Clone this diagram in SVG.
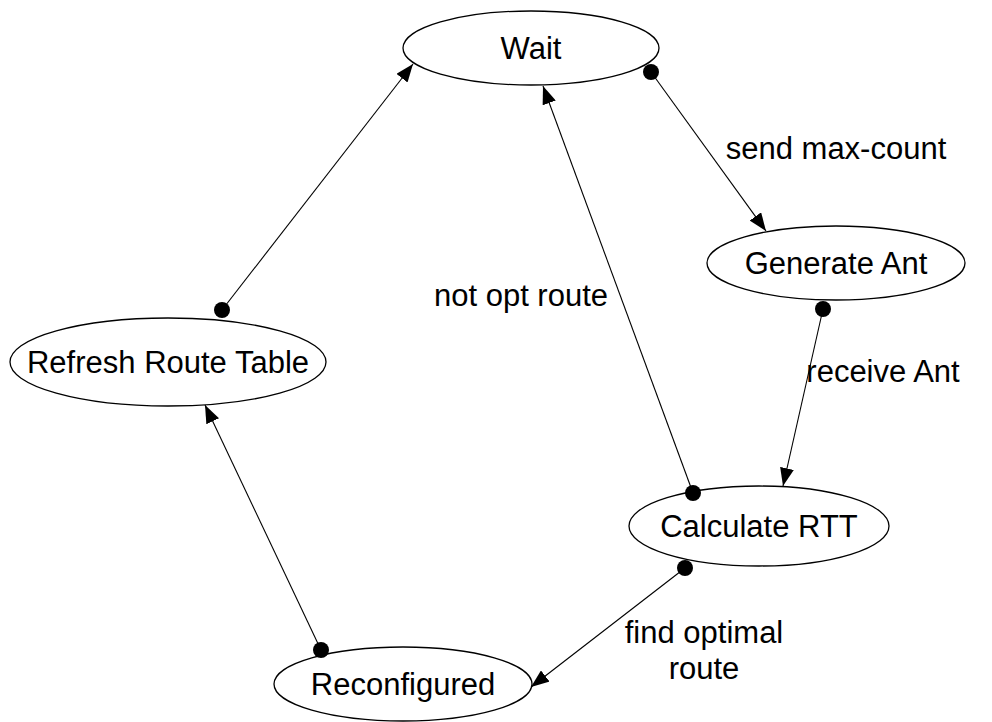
<svg xmlns="http://www.w3.org/2000/svg" width="992" height="722" viewBox="0 0 992 722">
<style>
.node ellipse{fill:#fff;stroke:#000;stroke-width:1.3}
text{font-family:"Liberation Sans",Arial,sans-serif;font-size:31px;fill:#000;text-anchor:middle}
.edge line{stroke:#000;stroke-width:1.1;marker-end:url(#arr)}
.dot{fill:#000}
</style>
<defs>
<marker id="arr" viewBox="0 0 18 14" refX="18" refY="7" markerWidth="18" markerHeight="14" markerUnits="userSpaceOnUse" orient="auto">
<path d="M0,0 L18,7 L0,14 z" fill="#000"/>
</marker>
</defs>
<rect width="992" height="722" fill="#fff"/>
<g id="n-wait" class="node"><ellipse cx="531" cy="48" rx="128" ry="37"/><text x="531" y="59">Wait</text></g>
<g id="n-gen" class="node"><ellipse cx="836" cy="263" rx="129" ry="37"/><text x="836" y="274">Generate Ant</text></g>
<g id="n-refresh" class="node"><ellipse cx="168" cy="362" rx="158" ry="44"/><text x="168" y="373">Refresh Route Table</text></g>
<g id="n-calc" class="node"><ellipse cx="759" cy="526" rx="130" ry="40"/><text x="759" y="537">Calculate RTT</text></g>
<g id="n-reconf" class="node"><ellipse cx="403" cy="684" rx="129" ry="37"/><text x="403" y="695">Reconfigured</text></g>
<g id="connectors" class="edge">
<line x1="222" y1="310" x2="413" y2="64"/>
<circle class="dot" cx="222" cy="310" r="8"/>
<line x1="651" y1="72" x2="766" y2="231"/>
<circle class="dot" cx="651" cy="72" r="8"/>
<line x1="823" y1="309" x2="783" y2="486"/>
<circle class="dot" cx="823" cy="309" r="8"/>
<line x1="693" y1="493" x2="543" y2="86"/>
<circle class="dot" cx="693" cy="493" r="8"/>
<line x1="685" y1="568" x2="531" y2="687"/>
<circle class="dot" cx="685" cy="568" r="8"/>
<line x1="321" y1="650" x2="205" y2="405"/>
<circle class="dot" cx="321" cy="650" r="8"/>
</g>
<g id="labels">
<text x="836" y="159">send max-count</text>
<text x="883" y="382">receive Ant</text>
<text x="521" y="306">not opt route</text>
<text x="704" y="643">find optimal</text>
<text x="704" y="679">route</text>
</g>
</svg>
